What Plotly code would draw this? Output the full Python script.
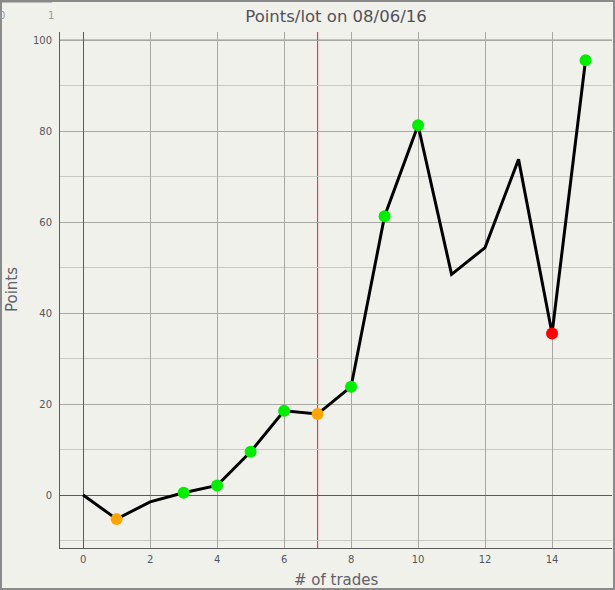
import plotly.graph_objects as go

# trades and cumulative points/lot
trades = list(range(16))
points = [0, -5.3, -1.5, 0.5, 2.1, 9.5, 18.5, 17.8, 23.8, 61.3, 81.3, 48.5, 54.4, 73.8, 35.5, 95.6]
# colour of the dot on each trade ('' = no dot)
dot_colours = ["", "orange", "", "green", "green", "green", "green", "orange",
               "green", "green", "green", "", "", "", "red", "green"]
marker_line_x = 7

palette = {"green": "#00ee00", "orange": "#ffa500", "red": "#ff0000"}

grid_col = "#a8a8a4"
minor_col = "#c8c8c4"
axis_col = "#5a5a5a"
text_col = "#55555f"
bg = "#f1f1ec"

W, H = 552, 516  # plot area size in px

fig = go.Figure()

fig.add_trace(go.Scatter(
    x=trades, y=points, mode="lines",
    line=dict(color="black", width=3),
    hoverinfo="skip", showlegend=False,
))

dx = [t for t, c in zip(trades, dot_colours) if c]
dy = [p for p, c in zip(points, dot_colours) if c]
dc = [palette[c] for c in dot_colours if c]
fig.add_trace(go.Scatter(
    x=dx, y=dy, mode="markers",
    marker=dict(color=dc, size=12, line=dict(width=0)),
    showlegend=False,
))

# red vertical marker
fig.add_shape(type="line", xref="x", yref="paper",
              x0=marker_line_x, x1=marker_line_x, y0=0, y1=1,
              line=dict(color="#ff3050", width=1.2), layer="between")
# dark line at 100
fig.add_shape(type="line", xref="paper", yref="y",
              x0=0, x1=1, y0=100, y1=100,
              line=dict(color=axis_col, width=1), layer="between")

# outer frame + small tab at top-left
fig.add_shape(type="rect", xref="paper", yref="paper",
              x0=-59 / W, x1=1 + 2 / W, y0=-41 / H, y1=1 + 31 / H,
              line=dict(color="#8a8a8a", width=2))
fig.add_shape(type="line", xref="paper", yref="paper",
              x0=-60 / W, x1=-8 / W, y0=1 + 31 / H, y1=1 + 31 / H,
              line=dict(color="#8a8a8a", width=3))
fig.add_annotation(text="0", xref="paper", yref="paper", x=-63 / W, y=1 + 24 / H,
                   showarrow=False, font=dict(size=10, color="#9a9a9a"), xanchor="left")
fig.add_annotation(text="1", xref="paper", yref="paper", x=-9 / W, y=1 + 24 / H,
                   showarrow=False, font=dict(size=10, color="#9a9a9a"), xanchor="center")

# axis titles
fig.add_annotation(text="# of trades", xref="paper", yref="paper", x=0.5, y=-32 / H,
                   showarrow=False, yanchor="middle",
                   font=dict(size=15, color="#60606a"))
fig.add_annotation(text="Points", xref="paper", yref="paper", x=-48 / W, y=0.5,
                   showarrow=False, textangle=-90, xanchor="center",
                   font=dict(size=15, color="#60606a"))

fig.update_layout(
    width=615, height=590,
    margin=dict(l=60, r=3, t=32, b=42, autoexpand=False),
    paper_bgcolor=bg, plot_bgcolor=bg,
    font=dict(family="DejaVu Sans", color=text_col, size=10),
    title=dict(text="Points/lot on 08/06/16", x=0.5, xref="paper", y=1 - 16 / 590,
               yanchor="middle", font=dict(size=16.5, color="#50505a")),
)
fig.update_xaxes(
    range=[-0.69, 15.79], dtick=2, tick0=0, automargin=False,
    showgrid=True, gridcolor=grid_col, gridwidth=1,
    zeroline=True, zerolinecolor=axis_col, zerolinewidth=1,
    showline=True, linecolor=axis_col, linewidth=1,
    ticks="", ticklabelstandoff=2,
)
fig.update_yaxes(
    range=[-11.65, 101.8], dtick=20, tick0=0, automargin=False,
    showgrid=True, gridcolor=grid_col, gridwidth=1,
    minor=dict(dtick=10, showgrid=True, gridcolor=minor_col, gridwidth=1),
    zeroline=True, zerolinecolor=axis_col, zerolinewidth=1,
    showline=True, linecolor=axis_col, linewidth=1,
    ticks="", ticklabelstandoff=5,
)

# page has a default 8px body margin; drop it so the figure fills the window
fig.write_html("out.html", config={"displayModeBar": False},
               post_script="document.body.style.margin='0';")
